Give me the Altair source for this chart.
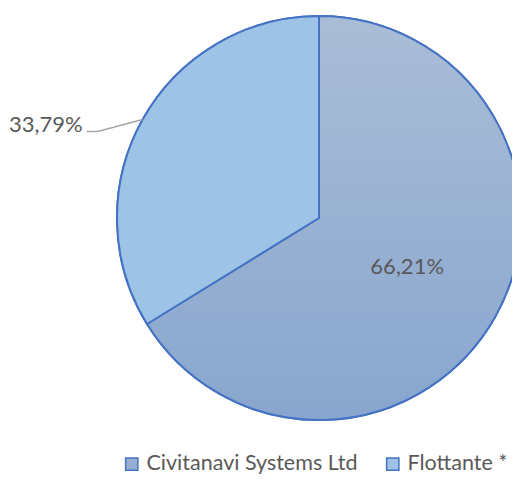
import math
import altair as alt
import pandas as pd

categories = ["Civitanavi Systems Ltd", "Flottante *"]
values = [66.21, 33.79]
colors = ["#98aed0", "#9dc3e6"]

W, H = 504, 466
CX, CY, R = 311, 210, 202

def fmt(v):
    return f"{v:.2f}".replace(".", ",") + "%"

df = pd.DataFrame({
    "cat": categories,
    "val": values,
    "order": list(range(len(categories))),
    "label": [fmt(values[0]), ""],
})

# leader line for the second slice, derived from its mid angle
total = sum(values)
start = values[0] / total * 2 * math.pi
mid = start + values[1] / total * math.pi
ex = CX + R * math.sin(mid)
ey = CY - R * math.cos(mid)
elx, ely = ex - 45, ey + 12
stub = 11
lead = pd.DataFrame({
    "x": [ex, elx, elx - stub],
    "y": [ey, ely, ely],
    "i": [0, 1, 2],
})
lab = pd.DataFrame({"x": [elx - stub - 4], "y": [ely], "t": [fmt(values[1])]})

xs = alt.Scale(domain=[0, W], range=[0, W])
ys = alt.Scale(domain=[0, H], range=[0, H])

grad = {
    "gradient": "linear", "x1": 0, "y1": 0, "x2": 0, "y2": 1,
    "stops": [{"offset": 0, "color": "#aabdd7"}, {"offset": 1, "color": "#88a6ce"}],
}

base = alt.Chart(df).encode(
    theta=alt.Theta("val:Q", stack=True),
    order=alt.Order("order:Q"),
)

pie = base.mark_arc(stroke="#4472c4", strokeWidth=2).encode(
    x=alt.value(CX), y=alt.value(CY), radius=alt.value(R),
    color=alt.Color("cat:N", scale=alt.Scale(domain=categories, range=colors),
                    sort=categories,
                    legend=alt.Legend(title=None, orient="none", direction="horizontal",
                                      legendX=113, legendY=445)),
)

pie2 = base.mark_arc(stroke="#4472c4", strokeWidth=2).encode(
    x=alt.value(CX), y=alt.value(CY), radius=alt.value(R),
    fill=alt.condition(f"datum.cat === '{categories[0]}'", alt.value(grad), alt.value(colors[1])),
)

inner = base.mark_text(font="Lato", fontSize=22, color="#595959").encode(
    x=alt.value(CX), y=alt.value(CY), radius=alt.value(101), text="label:N",
)

leader = alt.Chart(lead).mark_line(color="#a6a6a6", strokeWidth=1.5).encode(
    x=alt.X("x:Q", scale=xs, axis=None),
    y=alt.Y("y:Q", scale=ys, axis=None),
    order="i:Q",
)

outer = alt.Chart(lab).mark_text(font="Lato", fontSize=22, color="#595959",
                                 align="right", baseline="alphabetic").encode(
    x=alt.X("x:Q", scale=xs, axis=None),
    y=alt.Y("y:Q", scale=ys, axis=None),
    text="t:N",
)

chart = alt.layer(pie, pie2, inner, leader, outer).properties(
    width=W, height=H, padding=0, autosize=alt.AutoSizeParams(type="none"),
).configure_view(stroke=None).configure_legend(
    symbolType="square", symbolSize=150, symbolStrokeColor="#4472c4",
    symbolStrokeWidth=1.5, labelFont="Lato", labelFontSize=21.5, labelColor="#595959",
    labelOffset=4, columnPadding=24, labelLimit=400,
)

chart.save("out.html", embed_options={"renderer": "svg", "actions": False})
